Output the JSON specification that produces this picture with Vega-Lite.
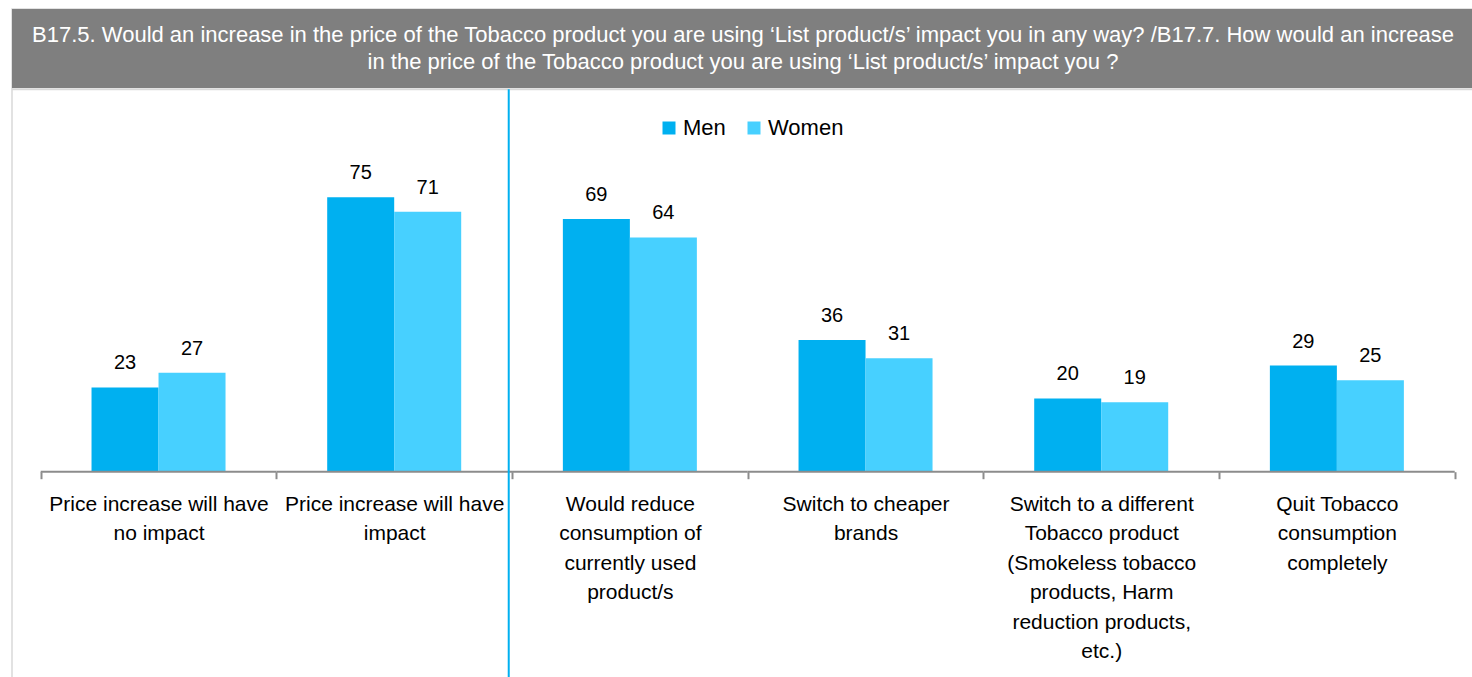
{
  "$schema": "https://vega.github.io/schema/vega-lite/v6.json",
  "width": 1462,
  "height": 670,
  "padding": {"left": 12, "top": 9, "right": 0, "bottom": 0},
  "autosize": {"type": "none"},
  "background": "white",
  "config": {
    "view": {"stroke": "#D9D9D9", "strokeWidth": 1.5},
    "font": "Liberation Sans"
  },
  "datasets": {
    "d": [
      {"category": "Price increase will have\nno impact", "sex": "Men", "value": 23},
      {"category": "Price increase will have\nno impact", "sex": "Women", "value": 27},
      {"category": "Price increase will have\nimpact", "sex": "Men", "value": 75},
      {"category": "Price increase will have\nimpact", "sex": "Women", "value": 71},
      {"category": "Would reduce\nconsumption of\ncurrently used\nproduct/s", "sex": "Men", "value": 69},
      {"category": "Would reduce\nconsumption of\ncurrently used\nproduct/s", "sex": "Women", "value": 64},
      {"category": "Switch to cheaper\nbrands", "sex": "Men", "value": 36},
      {"category": "Switch to cheaper\nbrands", "sex": "Women", "value": 31},
      {"category": "Switch to a different\nTobacco product\n(Smokeless tobacco\nproducts, Harm\nreduction products,\netc.)", "sex": "Men", "value": 20},
      {"category": "Switch to a different\nTobacco product\n(Smokeless tobacco\nproducts, Harm\nreduction products,\netc.)", "sex": "Women", "value": 19},
      {"category": "Quit Tobacco\nconsumption\ncompletely", "sex": "Men", "value": 29},
      {"category": "Quit Tobacco\nconsumption\ncompletely", "sex": "Women", "value": 25}
    ],
    "t": [
      {"title": "B17.5. Would an increase in the price of the Tobacco product you are using ‘List product/s’ impact you in any way? /B17.7. How would an increase\nin the price of the Tobacco product you are using ‘List product/s’ impact you ?"}
    ]
  },
  "layer": [
    {
      "data": {"name": "t"},
      "mark": {"type": "rect", "color": "#7F7F7F"},
      "encoding": {
        "y": {"datum": 126.4, "type": "quantitative", "scale": {"domain": [-56.64, 126.4], "nice": false, "zero": false}, "axis": null},
        "y2": {"datum": 104.84}
      }
    },
    {
      "data": {"name": "t"},
      "mark": {"type": "rule", "color": "#D9D9D9", "strokeWidth": 2},
      "encoding": {
        "y": {"datum": 104.5, "type": "quantitative"}
      }
    },
    {
      "data": {"name": "t"},
      "mark": {"type": "text", "color": "#FFFFFF", "fontSize": 22, "lineHeight": 27, "lineBreak": "\n", "align": "center", "baseline": "middle", "font": "Liberation Sans"},
      "encoding": {
        "y": {"datum": 119.4, "type": "quantitative"},
        "text": {"field": "title", "type": "nominal"}
      }
    },
    {
      "data": {"name": "d"},
      "encoding": {
        "x": {
          "field": "category", "type": "nominal", "sort": null,
          "scale": {"paddingInner": 0, "paddingOuter": 0.1018, "align": 0.598},
          "axis": {
            "orient": "bottom", "offset": -207.3, "title": null, "domain": false, "grid": false,
            "tickBand": "extent", "tickSize": 7, "tickWidth": 2, "tickColor": "#8C8C8C",
            "labelExpr": "split(datum.label, '\\n')", "labelFontSize": 21, "labelLineHeight": 29.5,
            "labelPadding": 14.7, "labelColor": "#000000", "labelAngle": 0, "labelLimit": 400,
            "labelOverlap": false, "labelFont": "Liberation Sans", "labelAlign": "center", "labelBaseline": "top"
          }
        }
      },
      "layer": [
        {
          "mark": {"type": "bar"},
          "encoding": {
            "xOffset": {"field": "sex", "type": "nominal", "sort": ["Men", "Women"], "scale": {"paddingInner": 0, "paddingOuter": 0.7587}},
            "y": {"field": "value", "type": "quantitative"},
            "y2": {"datum": 0},
            "color": {
              "field": "sex", "type": "nominal", "sort": ["Men", "Women"],
              "scale": {"range": ["#00B0F0", "#47D0FF"]},
              "legend": {
                "orient": "none", "legendX": 646, "legendY": 108, "direction": "horizontal", "title": null,
                "symbolType": "square", "symbolSize": 169, "symbolStrokeWidth": 0, "symbolOpacity": 1,
                "labelFontSize": 22, "labelFont": "Liberation Sans", "labelColor": "#000000", "labelOffset": 3, "columnPadding": 17
              }
            }
          }
        },
        {
          "mark": {"type": "text", "fontSize": 20, "baseline": "alphabetic", "dy": -18, "color": "#000000", "font": "Liberation Sans"},
          "encoding": {
            "xOffset": {"field": "sex", "type": "nominal", "sort": ["Men", "Women"]},
            "y": {"field": "value", "type": "quantitative"},
            "text": {"field": "value", "type": "quantitative"}
          }
        },
        {
          "transform": [{"filter": "datum.sex == 'Men'"}],
          "mark": {"type": "rect", "color": "#8C8C8C"},
          "encoding": {
            "y": {"datum": 0.28, "type": "quantitative"},
            "y2": {"datum": -0.28}
          }
        }
      ]
    },
    {
      "data": {"name": "t"},
      "mark": {"type": "rule", "color": "#00B0F0", "strokeWidth": 2},
      "encoding": {
        "x": {"datum": "Price increase will have\nimpact", "type": "nominal", "bandPosition": 0.986},
        "y": {"datum": 104.5, "type": "quantitative"},
        "y2": {"datum": -60}
      }
    }
  ]
}
